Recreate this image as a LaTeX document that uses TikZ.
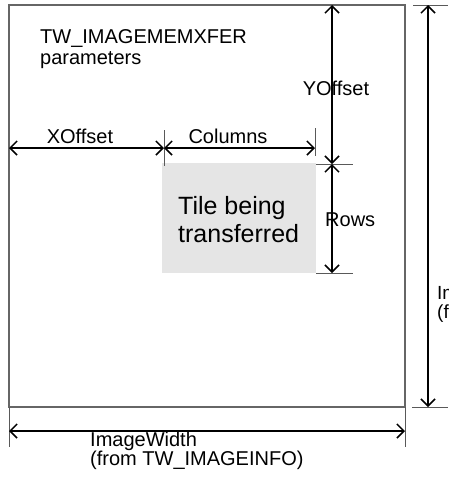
\documentclass[tikz,border=0pt]{standalone}
\usepackage{fontspec}
\setmainfont{Liberation Sans}
\usepackage{tikz}
\usetikzlibrary{positioning,arrows.meta,calc}

\tikzset{
  dim/.style = {line width=1.5pt, {Straight Barb[length=7pt,width=14pt]}-{Straight Barb[length=7pt,width=14pt]}},
  tick/.style = {line width=1pt, black!65},
  border/.style = {line width=1.3pt, black!60},
  lbl/.style = {inner sep=0pt, align=left, font=\fontsize{20}{19}\selectfont},
}

\begin{document}
\begin{tikzpicture}[x=1pt, y=-1pt]
\useasboundingbox (0,0) rectangle (448,477);
\clip (0,0) rectangle (448,477);

% image and tile
\fill[gray!20] (162,163) rectangle (316,273);
\draw[border] (9,5) rectangle (405,407);

\coordinate (xl) at (9,148);
\coordinate (xm) at (164,148);
\coordinate (xr) at (315,148);
\coordinate (yt) at (332,5);
\coordinate (ym) at (332,164);
\coordinate (yb) at (332,273);
\coordinate (ht) at (428,5);
\coordinate (hb) at (428,407);
\coordinate (wl) at (9,431);
\coordinate (wr) at (405,431);

% ticks
\draw[tick] (164,130) -- (164,166);
\draw[tick] (315,128) -- (315,156);
\draw[tick] (316,164) -- (353,164);
\draw[tick] (316,273) -- (353,273);
\draw[tick] (413,5) -- (448,5);
\draw[tick] (412,407) -- (448,407);
\draw[tick] (9,407) -- (9,447);
\draw[tick] (405,407) -- (405,447);

% dimensions
\draw[dim] (xl) -- (xm);
\draw[dim] (xm) -- (xr);
\draw[dim] (yt) -- (ym);
\draw[dim] (ym) -- (yb);
\draw[dim] (ht) -- (hb);
\draw[dim] (wl) -- (wr);

\node[lbl, anchor=base west, font=\fontsize{20}{21}\selectfont] (title) at (40,64) {TW\_IMAGEMEMXFER\\parameters};
\node[lbl, anchor=base] (xoff) at (80,143) {XOffset};
\node[lbl, anchor=base] (cols) at (228,143) {Columns};
\node[lbl, anchor=base] (yoff) at (336,95) {YOffset};
\node[lbl, anchor=base west] (rows) at (325,226) {Rows};
\node[lbl, anchor=base west, font=\fontsize{25}{28}\selectfont] (tile) at (178,242) {Tile being\\transferred};
\node[lbl, anchor=base west] (iwidth) at (90,465) {ImageWidth\\(from TW\_IMAGEINFO)};
\node[lbl, anchor=base west, font=\fontsize{19}{14}\selectfont] (iheight) at (437,318) {ImageHeight\\(from TW\_IMAGEINFO)};

\end{tikzpicture}
\end{document}
